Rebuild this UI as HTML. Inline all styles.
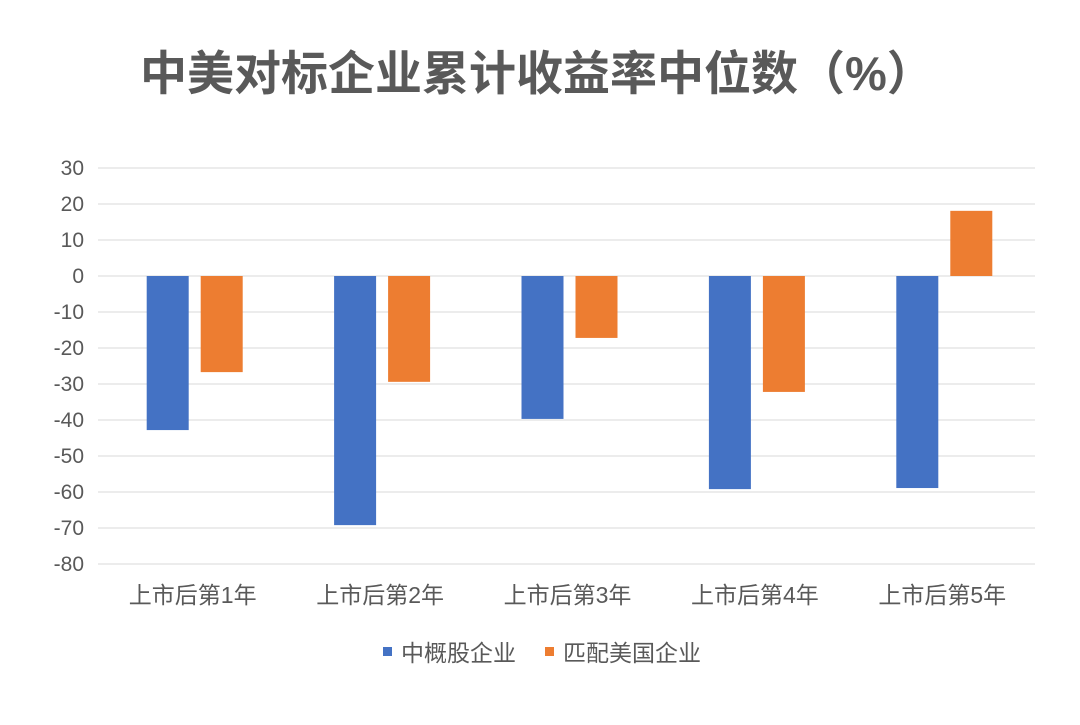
<!DOCTYPE html>
<html><head><meta charset="utf-8"><style>
body{margin:0;background:#fff;width:1080px;height:720px;overflow:hidden;font-family:"Liberation Sans","Noto Sans CJK SC",sans-serif;}
</style></head><body>
<svg id="chart" width="1080" height="720" xmlns="http://www.w3.org/2000/svg">
<text x="140" y="90" font-size="47" font-weight="bold" fill="#595959" font-family="Liberation Sans, Noto Sans CJK SC, sans-serif">中美对标企业累计收益率中位数（%）</text>
<g id="grid"></g><g id="bars"></g><g id="labels"></g>
<g font-size="23" fill="#595959" font-family="Liberation Sans, Noto Sans CJK SC, sans-serif">
<rect x="383" y="647" width="9" height="9" fill="#4472C4"/>
<text x="401" y="661">中概股企业</text>
<rect x="545" y="647" width="9" height="9" fill="#ED7D31"/>
<text x="563" y="661">匹配美国企业</text>
</g>
</svg>
<script>
const categories=["上市后第1年","上市后第2年","上市后第3年","上市后第4年","上市后第5年"];
const chinaValues=[-42.8,-69.2,-39.7,-59.2,-58.9];
const usValues=[-26.7,-29.4,-17.2,-32.2,18.1];
const ticks=[30,20,10,0,-10,-20,-30,-40,-50,-60,-70,-80];
const NS="http://www.w3.org/2000/svg";
const x0=98,x1=1035,yMax=30,yMin=-80,yTop=168,yBot=564;
const y=v=>yTop+(yMax-v)*(yBot-yTop)/(yMax-yMin);
const bw=(x1-x0)/categories.length;
function mk(t,a,p){const e=document.createElementNS(NS,t);for(const k in a)e.setAttribute(k,a[k]);p.appendChild(e);return e;}
const grid=document.getElementById('grid'),bars=document.getElementById('bars'),labels=document.getElementById('labels');
ticks.forEach(t=>{
const l=mk('line',{x1:x0,x2:x1,y1:y(t),y2:y(t),stroke:'#d9d9d9','stroke-width':1},grid);


const tx=mk('text',{x:84,y:y(t)+7,'text-anchor':'end','font-size':21,fill:'#595959'},labels);
tx.textContent=t;


});
categories.forEach((c,i)=>{
const cx=x0+bw*(i+0.5);
[[chinaValues[i],'#4472C4',cx-45,'bar-china'],[usValues[i],'#ED7D31',cx+9,'bar-us']].forEach(([v,col,bx,nm])=>{
const r=mk('rect',{x:bx,y:Math.min(y(v),y(0)),width:42,height:Math.abs(y(v)-y(0)),fill:col},bars);


});
const tx=mk('text',{x:cx+1,y:603,'text-anchor':'middle','font-size':23,fill:'#595959'},labels);
tx.textContent=c;


});
</script>
</body></html>
